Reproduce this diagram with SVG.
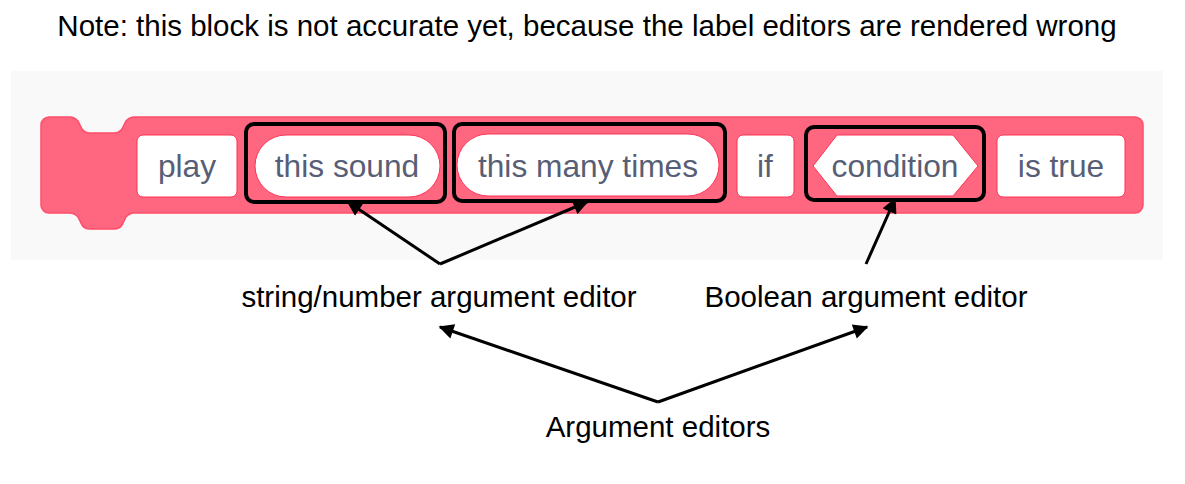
<svg xmlns="http://www.w3.org/2000/svg" width="1185" height="484" viewBox="0 0 1185 484">
<defs>
<style>
.lbl{font-family:"Liberation Sans",Arial,sans-serif;fill:#000;}
.blk{font-family:"Liberation Sans",Arial,sans-serif;fill:#575E75;font-size:31.7px;text-anchor:middle;}
.box{fill:#fff;stroke:#FF3355;stroke-width:1;}
.hl{fill:none;stroke:#000;stroke-width:4;}
.conn{fill:none;stroke:#000;stroke-width:3;marker-end:url(#ah);}
</style>
<marker id="ah" viewBox="0 0 10 10" refX="9" refY="5" markerWidth="5.5" markerHeight="5" orient="auto" markerUnits="strokeWidth">
<path d="M0,0 L10,5 L0,10 Z" fill="#000"/>
</marker>
</defs>
<rect width="1185" height="484" fill="#fff"/>
<text class="lbl" x="587" y="36" font-size="29.5" text-anchor="middle">Note: this block is not accurate yet, because the label editors are rendered wrong</text>
<rect x="11" y="71" width="1152" height="189" fill="#f9f9f9"/>
<g id="block">
<path d="M41,125 a8,8 0 0 1 8,-8 H70 c4,0 6,2 8,4 l4,8 c2,3 4,4 8,4 H114 c4,0 6,-1 8,-4 l4,-8 c2,-2 4,-4 8,-4 H1135 a8,8 0 0 1 8,8 V205 a8,8 0 0 1 -8,8 H134 c-4,0 -6,2 -8,4 l-4,8 c-2,3 -4,4 -8,4 H90 c-4,0 -6,-1 -8,-4 l-4,-8 c-2,-2 -4,-4 -8,-4 H49 a8,8 0 0 1 -8,-8 Z" fill="#FF6680" stroke="#FF4D6A" stroke-width="1.5"/>
</g>
<g id="play">
<rect class="box" x="137" y="135" width="100" height="62" rx="6"/>
<text class="blk" x="187" y="177">play</text>
</g>
<g id="this-sound">
<rect class="box" x="255" y="135" width="185" height="62" rx="31"/>
<text class="blk" x="347" y="177">this sound</text>
<rect class="hl" x="246" y="124" width="199" height="78" rx="8"/>
</g>
<g id="this-many-times">
<rect class="box" x="457" y="134" width="262" height="62" rx="31"/>
<text class="blk" x="588" y="177">this many times</text>
<rect class="hl" x="454" y="124" width="271" height="77" rx="8"/>
</g>
<g id="if">
<rect class="box" x="737" y="135" width="57" height="62" rx="6"/>
<text class="blk" x="765" y="177">if</text>
</g>
<g id="condition">
<path class="box" d="M813,166 L837,135 H953 L978,166 L953,196 H837 Z"/>
<text class="blk" x="895" y="177">condition</text>
<rect class="hl" x="806" y="127" width="178" height="73" rx="8"/>
</g>
<g id="is-true">
<rect class="box" x="997" y="135" width="128" height="62" rx="6"/>
<text class="blk" x="1061" y="177">is true</text>
</g>
<g id="label-string">
<text class="lbl" x="439" y="307" font-size="29.5" text-anchor="middle">string/number argument editor</text>
</g>
<g id="label-boolean">
<text class="lbl" x="866" y="307" font-size="29.5" text-anchor="middle">Boolean argument editor</text>
</g>
<g id="label-argument">
<text class="lbl" x="658" y="437" font-size="29.5" text-anchor="middle">Argument editors</text>
</g>
<g id="connectors">
<path class="conn" d="M440,264 L348,202"/>
<path class="conn" d="M440,264 L587,202"/>
<path class="conn" d="M866,264 L895,199"/>
<path class="conn" d="M658,402 L440,327"/>
<path class="conn" d="M658,402 L867,327"/>
</g>
</svg>
